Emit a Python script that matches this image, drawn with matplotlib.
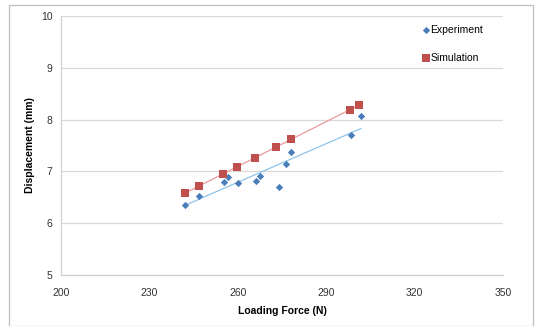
import matplotlib
matplotlib.use("Agg")
import matplotlib.pyplot as plt
import numpy as np
from matplotlib.patches import Rectangle

plt.rcParams['font.family'] = ['Liberation Sans', 'DejaVu Sans']

exp_force = [242.1, 246.8, 255.3, 256.7, 260.2, 266.1, 267.6, 273.9, 276.5, 277.9, 298.5, 301.8]
exp_disp = [6.35, 6.53, 6.80, 6.89, 6.77, 6.82, 6.91, 6.70, 7.15, 7.37, 7.70, 8.06]
sim_force = [242.1, 246.8, 255.0, 259.8, 265.9, 273.0, 277.9, 298.1, 301.0]
sim_disp = [6.58, 6.72, 6.95, 7.09, 7.26, 7.47, 7.62, 8.19, 8.28]
x_ticks = [200, 230, 260, 290, 320, 350]
y_ticks = [5, 6, 7, 8, 9, 10]

blue = '#4A7EBB'
red = '#C0504D'
blue_trend = '#8DC3EA'
red_trend = '#EA9A98'

fig = plt.figure(figsize=(5.37, 3.26), dpi=100)
ax = fig.add_axes([61/537, 1-275/326, (503-61)/537, (275-16)/326])

# trendlines
for xs, ys, c in [(exp_force, exp_disp, blue_trend), (sim_force, sim_disp, red_trend)]:
    xs = np.array(xs); ys = np.array(ys)
    m, b = np.polyfit(xs, ys, 1)
    xx = np.array([xs.min(), xs.max()])
    ax.plot(xx, m*xx + b, color=c, lw=0.9, zorder=2)

ax.scatter(exp_force, exp_disp, marker='D', s=14, color=blue, zorder=3, label='Experiment', linewidths=0)
ax.scatter(sim_force, sim_disp, marker='s', s=26, color=red, zorder=3, label='Simulation', linewidths=0)

ax.set_xlim(200, 350)
ax.set_ylim(5, 10)
ax.set_xticks(x_ticks)
ax.set_yticks(y_ticks)
ax.tick_params(axis='both', length=0, labelsize=7.5, colors='#333333', pad=6)
ax.tick_params(axis='x', pad=9)
ax.grid(axis='y', color='#D9D9D9', lw=0.9)
ax.set_axisbelow(True)
for s in ['top', 'right']:
    ax.spines[s].set_visible(False)
for s in ['left', 'bottom']:
    ax.spines[s].set_color('#D0D0D0')
    ax.spines[s].set_linewidth(0.9)

ax.set_xlabel('Loading Force (N)', fontsize=7.5, fontweight='bold', labelpad=6)
ax.set_ylabel('Displacement (mm)', fontsize=7.5, fontweight='bold', labelpad=4)

leg = ax.legend(loc='upper left', bbox_to_anchor=(418/537, 1-20/326), bbox_transform=fig.transFigure,
                frameon=False, fontsize=7.5, handlelength=0.6, handletextpad=0.1,
                labelspacing=1.7, borderpad=0, scatterpoints=1)

fig.patches.append(Rectangle((9/537, 0), (533-9)/537, (326-5)/326, transform=fig.transFigure,
                             fill=False, edgecolor='#BFBFBF', lw=0.9))

fig.savefig('out.png', dpi=100)
